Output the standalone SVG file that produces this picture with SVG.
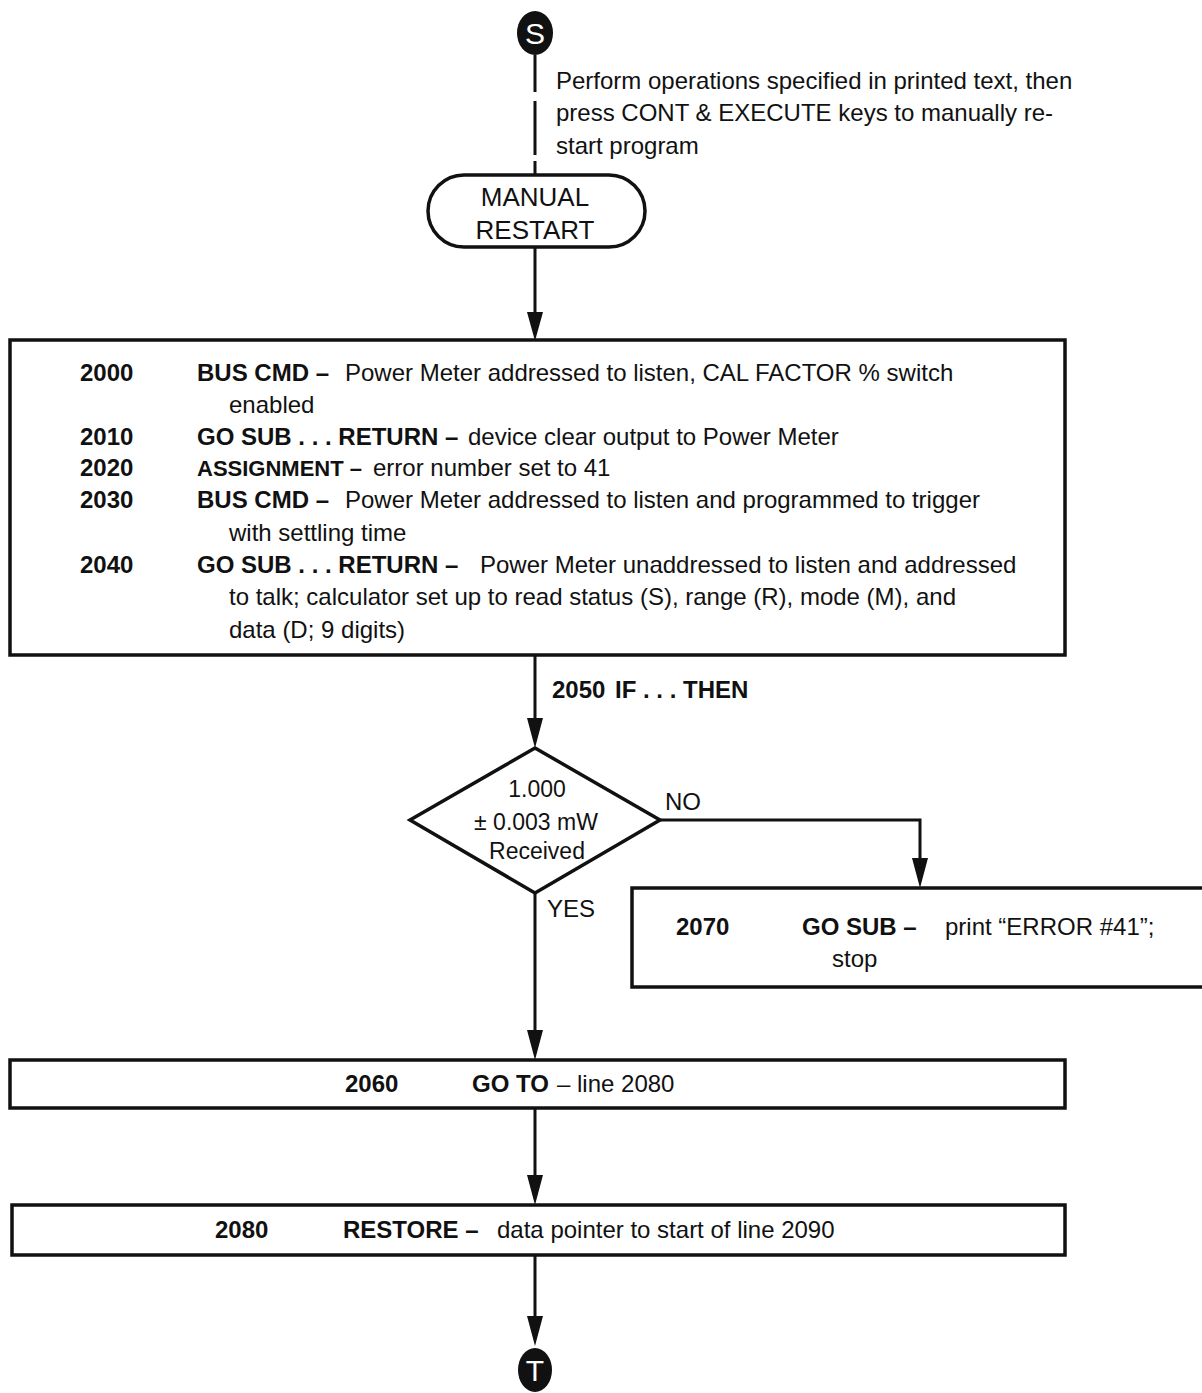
<svg xmlns="http://www.w3.org/2000/svg" width="1202" height="1393" viewBox="0 0 1202 1393">
<style>
  text { font-family: "Liberation Sans", Arial, sans-serif; font-size: 24px; fill: #111; }
  .b { font-weight: bold; }
  .c { text-anchor: middle; }
  .big { font-size: 26px; }
  .dia { font-size: 23px; }
  .box { fill: #fff; stroke: #111; stroke-width: 3.5; }
  .ln { fill: none; stroke: #111; stroke-width: 3; }
  .term { fill: #111; }
  .tl { fill: #fff; font-size: 30px; text-anchor: middle; }
  .ah { fill: #111; }
</style>
<rect width="1202" height="1393" fill="#fff"/>

<g id="connectors">
  <path class="ln" d="M535,55 V92 M535,101 V155 M535,161 V176"/>
  <path class="ln" d="M535,247 V314"/>
  <path class="ah" d="M527,312 L543,312 L535,341 Z"/>
  <path class="ln" d="M535,655 V720"/>
  <path class="ah" d="M527,718 L543,718 L535,748 Z"/>
  <path class="ln" d="M660,820 H920 V860"/>
  <path class="ah" d="M912,858 L928,858 L920,888 Z"/>
  <path class="ln" d="M535,893 V1032"/>
  <path class="ah" d="M527,1030 L543,1030 L535,1060 Z"/>
  <path class="ln" d="M535,1108 V1177"/>
  <path class="ah" d="M527,1175 L543,1175 L535,1205 Z"/>
  <path class="ln" d="M535,1255 V1318"/>
  <path class="ah" d="M527,1316 L543,1316 L535,1346 Z"/>
  <text x="556" y="89">Perform operations specified in printed text, then</text>
  <text x="556" y="121">press CONT &amp; EXECUTE keys to manually re-</text>
  <text x="556" y="154">start program</text>
  <text x="552" y="698" class="b">2050</text>
  <text x="615" y="698" class="b">IF . . . THEN</text>
  <text x="665" y="810">NO</text>
  <text x="547" y="917">YES</text>
</g>

<g id="start">
  <ellipse cx="535" cy="33" rx="18" ry="22" class="term"/>
  <text x="535" y="44" class="tl">S</text>
</g>

<g id="manual-restart">
  <rect x="428" y="175" width="217" height="72" rx="36" ry="36" class="box"/>
  <text x="535" y="206" class="c big">MANUAL</text>
  <text x="535" y="239" class="c big">RESTART</text>
</g>

<g id="block-2000">
  <rect x="10" y="340" width="1055" height="315" class="box"/>
  <text x="80" y="381" class="b">2000</text>
  <text x="197" y="381" class="b">BUS CMD –</text>
  <text x="345" y="381">Power Meter addressed to listen, CAL FACTOR % switch</text>
  <text x="229" y="413">enabled</text>
  <text x="80" y="445" class="b">2010</text>
  <text x="197" y="445" class="b">GO SUB . . . RETURN –</text>
  <text x="468" y="445">device clear output to Power Meter</text>
  <text x="80" y="476" class="b">2020</text>
  <text x="197" y="476" class="b" style="font-size:22px">ASSIGNMENT –</text>
  <text x="373" y="476">error number set to 41</text>
  <text x="80" y="508" class="b">2030</text>
  <text x="197" y="508" class="b">BUS CMD –</text>
  <text x="345" y="508">Power Meter addressed to listen and programmed to trigger</text>
  <text x="229" y="541">with settling time</text>
  <text x="80" y="573" class="b">2040</text>
  <text x="197" y="573" class="b">GO SUB . . . RETURN –</text>
  <text x="480" y="573">Power Meter unaddressed to listen and addressed</text>
  <text x="229" y="605">to talk; calculator set up to read status (S), range (R), mode (M), and</text>
  <text x="229" y="638">data (D; 9 digits)</text>
</g>

<g id="decision-2050">
  <polygon points="535,748 660,820 535,893 410,820" class="box"/>
  <text x="537" y="797" class="c dia">1.000</text>
  <text x="536" y="830" class="c dia">± 0.003 mW</text>
  <text x="537" y="859" class="c dia">Received</text>
</g>

<g id="block-2070">
  <rect x="632" y="888" width="580" height="99" class="box"/>
  <text x="676" y="935" class="b">2070</text>
  <text x="802" y="935" class="b">GO SUB –</text>
  <text x="945" y="935">print “ERROR #41”;</text>
  <text x="832" y="967">stop</text>
</g>

<g id="block-2060">
  <rect x="10" y="1060" width="1055" height="48" class="box"/>
  <text x="345" y="1092" class="b">2060</text>
  <text x="472" y="1092" class="b">GO TO</text>
  <text x="557" y="1092">– line 2080</text>
</g>

<g id="block-2080">
  <rect x="12" y="1205" width="1053" height="50" class="box"/>
  <text x="215" y="1238" class="b">2080</text>
  <text x="343" y="1238" class="b">RESTORE –</text>
  <text x="497" y="1238">data pointer to start of line 2090</text>
</g>

<g id="end">
  <ellipse cx="535" cy="1370" rx="17" ry="22" class="term"/>
  <text x="535" y="1381" class="tl">T</text>
</g>
</svg>
